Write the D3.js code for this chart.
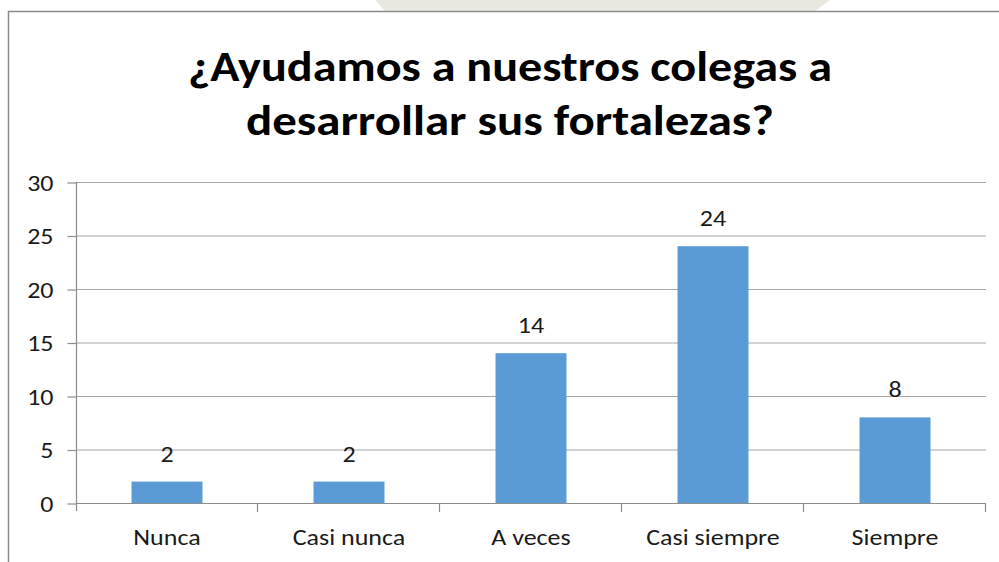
<!DOCTYPE html>
<html>
<head>
<meta charset="utf-8">
<script src="https://cdn.jsdelivr.net/npm/d3@7"></script>
<style>
  html, body { margin: 0; padding: 0; background: #fff; }
  svg { display: block; }
</style>
</head>
<body>
<svg id="chart" width="999" height="562"></svg>
<script>
// Survey answers
const categories = ["Nunca", "Casi nunca", "A veces", "Casi siempre", "Siempre"];
const values = [2, 2, 14, 24, 8];
const yTicks = [0, 5, 10, 15, 20, 25, 30];
const titleLines = ["¿Ayudamos a nuestros colegas a", "desarrollar sus fortalezas?"];

const W = 999, H = 562;
const svg = d3.select("#chart");
const font = "Carlito, 'Open Sans', 'Liberation Sans', sans-serif";
const labelSize = 23;
const stretch = 1.13;   // labels are set slightly wide

// widen a text horizontally, keeping its anchor
function widen(sel) {
  sel.each(function () {
    const w = this.getComputedTextLength();
    d3.select(this).attr("textLength", w * stretch).attr("lengthAdjust", "spacingAndGlyphs");
  });
}

// faint backdrop band above the chart frame
svg.append("path")
  .attr("d", "M375,0 L830,0 L815,11 L385,11 Z")
  .attr("fill", "#e9e7df");

// chart frame
svg.append("rect")
  .attr("x", 8.5).attr("y", 11.5)
  .attr("width", 1200).attr("height", 800)
  .attr("fill", "#fff")
  .attr("stroke", "#8c8c8c").attr("stroke-width", 1.5);

const plot = { left: 76, right: 986, top: 182, bottom: 503 };

const x = d3.scaleBand()
  .domain(categories)
  .range([plot.left, plot.right])
  .paddingInner(0.61).paddingOuter(0.305);

const xBounds = d3.scaleBand().domain(categories).range([plot.left, plot.right]);

const y = d3.scaleLinear().domain([0, 30]).range([plot.bottom, plot.top]);

// gridlines
svg.append("g")
  .selectAll("line")
  .data(yTicks.filter(d => d > 0))
  .join("line")
  .attr("x1", plot.left).attr("x2", plot.right)
  .attr("y1", d => y(d) + 0.5).attr("y2", d => y(d) + 0.5)
  .attr("stroke", "#a6a6a6").attr("stroke-width", 1.2);

// y axis
const yAxis = svg.append("g")
  .attr("transform", `translate(${plot.left + 0.5},0)`)
  .call(d3.axisLeft(y).tickValues(yTicks).tickSize(9).tickPadding(14));
yAxis.select(".domain").attr("stroke", "#8c8c8c").attr("stroke-width", 1.2)
  .attr("d", `M0,${plot.top}V${plot.bottom + 8}`);
yAxis.selectAll(".tick line").attr("stroke", "#8c8c8c").attr("stroke-width", 1.2)
  .attr("transform", "translate(0,0.5)");
yAxis.selectAll(".tick text")
  .attr("font-family", font).attr("font-size", labelSize).attr("fill", "#1a1a1a")
  .attr("dy", "0.36em")
  .call(widen);

// bars
svg.append("g")
  .selectAll("rect")
  .data(values)
  .join("rect")
  .attr("x", (d, i) => x(categories[i]))
  .attr("width", x.bandwidth())
  .attr("y", d => y(d))
  .attr("height", d => y(0) - y(d))
  .attr("fill", "#5b9bd5");

// x axis line and category separators
const xg = svg.append("g");
xg.append("line")
  .attr("x1", plot.left).attr("x2", plot.right)
  .attr("y1", plot.bottom + 0.5).attr("y2", plot.bottom + 0.5)
  .attr("stroke", "#8c8c8c").attr("stroke-width", 1.2);
const bounds = categories.map(c => xBounds(c)).concat([plot.right]);
xg.selectAll("line.sep")
  .data(bounds.slice(1))
  .join("line")
  .attr("class", "sep")
  .attr("x1", d => d - 0.5).attr("x2", d => d - 0.5)
  .attr("y1", plot.bottom).attr("y2", plot.bottom + 9)
  .attr("stroke", "#8c8c8c").attr("stroke-width", 1.2);

xg.selectAll("text")
  .data(categories)
  .join("text")
  .attr("x", d => x(d) + x.bandwidth() / 2)
  .attr("y", 545)
  .attr("text-anchor", "middle")
  .attr("font-family", font).attr("font-size", labelSize).attr("fill", "#1a1a1a")
  .text(d => d)
  .call(widen);

// value labels
svg.append("g")
  .selectAll("text")
  .data(values)
  .join("text")
  .attr("x", (d, i) => x(categories[i]) + x.bandwidth() / 2)
  .attr("y", d => y(d) - 20)
  .attr("text-anchor", "middle")
  .attr("font-family", font).attr("font-size", labelSize).attr("fill", "#1a1a1a")
  .text(d => d)
  .call(widen);

// title
const title = svg.append("g");
const titleWidths = [644, 528];
titleLines.forEach((t, i) => {
  title.append("text")
    .attr("x", 510)
    .attr("y", 81 + i * 54)
    .attr("text-anchor", "middle")
    .attr("font-family", font).attr("font-weight", "bold")
    .attr("font-size", 42).attr("fill", "#000")
    .attr("textLength", titleWidths[i]).attr("lengthAdjust", "spacingAndGlyphs")
    .text(t);
});
</script>
</body>
</html>
